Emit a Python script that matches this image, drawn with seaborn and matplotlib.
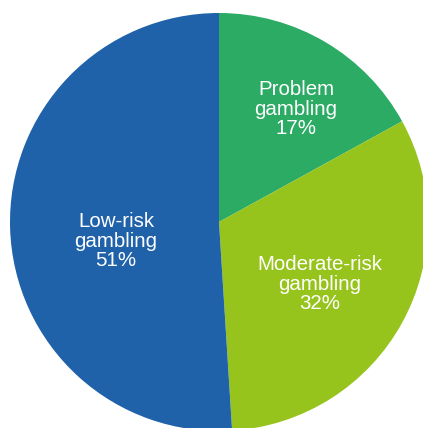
import matplotlib
matplotlib.use('Agg')
import matplotlib.pyplot as plt
import seaborn as sns

sns.set_theme(style="white")
plt.rcParams['font.family'] = ['Liberation Sans', 'DejaVu Sans']

# Data
categories = ['Problem\ngambling', 'Moderate-risk\ngambling', 'Low-risk\ngambling']
shares = [17, 32, 51]
colors = ['#2bab64', '#97c31d', '#1f62aa']

W, H = 423, 428
fig = plt.figure(figsize=(W / 100, H / 100), dpi=100)
ax = fig.add_axes([0, 0, 1, 1])

# pie in pixel units: centre (219, 222 from top), radius 209
cx, cy, r = 219, H - 222, 209
ax.pie(shares, colors=colors, startangle=90, counterclock=False,
       center=(cx, cy), radius=r, frame=True,
       wedgeprops={'linewidth': 0})

# labels inside the slices (pixel positions measured from top)
label_pos = [(296, 109), (320, 284), (116, 241)]
for name, val, (x, y) in zip(categories, shares, label_pos):
    ax.text(x, H - y, f"{name}\n{val}%", color='white', fontsize=14.8,
            ha='center', va='center', multialignment='center', linespacing=1.05)

ax.set_xlim(0, W)
ax.set_ylim(0, H)
ax.set_aspect('equal')
ax.axis('off')

fig.savefig('out.png', dpi=100, facecolor='white')
